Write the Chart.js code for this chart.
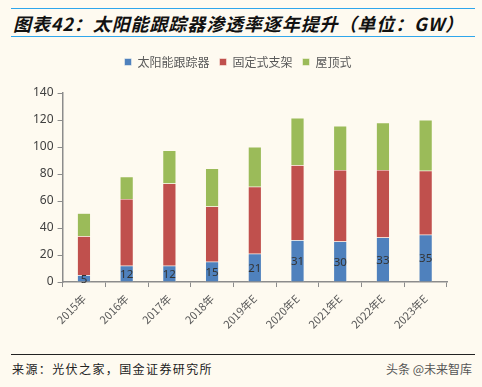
<!DOCTYPE html>
<html>
<head>
<meta charset="utf-8">
<script src="https://cdn.jsdelivr.net/npm/chart.js@4"></script>
<style>
  body { margin: 0; background: #fefaf0; width: 482px; height: 387px; position: relative; overflow: hidden; font-family: "Noto Sans CJK SC", sans-serif; }
  .line { position: absolute; left: 11px; width: 464px; height: 1px; background: #2ea6ec; }
  .title { position: absolute; left: 13px; top: 10px; font-size: 18px; font-weight: bold; font-style: italic; color: #111; white-space: nowrap; letter-spacing: 0.9px; }
  .foot { position: absolute; left: 11px; width: 464px; top: 354px; height: 1px; background: #222; }
  .src { position: absolute; left: 12px; top: 360px; font-size: 12px; color: #222; letter-spacing: 1.4px; }
  .wm { position: absolute; right: 10px; top: 360px; font-size: 12px; color: #555; }
  #wrap { position: absolute; left: 0; top: 46px; width: 482px; height: 290px; }
</style>
</head>
<body>
<div class="line" style="top:8px"></div>
<div class="title">图表42：太阳能跟踪器渗透率逐年提升（单位：GW）</div>
<div class="line" style="top:36px"></div>
<div id="wrap"><canvas id="myChart"></canvas></div>
<div class="foot"></div>
<div class="src">来源：光伏之家，国金证券研究所</div>
<div class="wm">头条 @未来智库</div>
<script>
const years = ['2015年', '2016年', '2017年', '2018年', '2019年E', '2020年E', '2021年E', '2022年E', '2023年E'];
const tracker = [5, 12, 12, 15, 21, 31, 30, 33, 35];
const fixedMount = [29, 49.5, 61, 41, 49.5, 55.5, 53, 50, 47.5];
const rooftop = [17, 16.5, 24.5, 28, 29.5, 35, 32.5, 35, 37.5];

const barLabels = {
  id: 'barLabels',
  afterDatasetsDraw(chart) {
    const { ctx } = chart;
    const meta = chart.getDatasetMeta(0);
    ctx.save();
    ctx.font = '11.5px "Noto Sans", sans-serif';
    ctx.fillStyle = '#333';
    ctx.textAlign = 'center';
    ctx.textBaseline = 'middle';
    meta.data.forEach((bar, i) => {
      ctx.fillText(tracker[i], bar.x, (bar.y + bar.base) / 2 + 1);
    });
    ctx.restore();
  }
};

// push the plot area a little below the legend
const legendGap = {
  id: 'legendGap',
  beforeInit(chart) {
    const fit = chart.legend.fit;
    chart.legend.fit = function () {
      fit.bind(chart.legend)();
      this.height += 15;
    };
  }
};

const ctx = document.getElementById('myChart');

new Chart(ctx, {
  type: 'bar',
  data: {
    labels: years,
    datasets: [{
      label: '太阳能跟踪器',
      data: tracker,
      backgroundColor: '#4f81bd',
      borderColor: '#fefaf0',
      borderWidth: 0.5
    }, {
      label: '固定式支架',
      data: fixedMount,
      backgroundColor: '#c0504d',
      borderColor: '#fefaf0',
      borderWidth: 0.5
    }, {
      label: '屋顶式',
      data: rooftop,
      backgroundColor: '#9bbb59',
      borderColor: '#fefaf0',
      borderWidth: 0.5
    }]
  },
  plugins: [barLabels, legendGap],
  options: {
    responsive: true,
    maintainAspectRatio: false,
    animation: false,
    layout: { padding: { left: 29, right: 35, top: 0, bottom: 0 } },
    datasets: { bar: { barPercentage: 0.62, categoryPercentage: 0.5 } },
    plugins: {
      legend: {
        position: 'top',
        labels: {
          boxWidth: 7,
          boxHeight: 7,
          padding: 10,
          color: '#595959',
          font: { size: 12, family: '"Noto Sans CJK SC", sans-serif' }
        }
      },
      tooltip: { enabled: false }
    },
    scales: {
      x: {
        stacked: true,
        border: { color: '#8c8c8c', width: 1.5 },
        grid: { offset: true, drawOnChartArea: false, tickLength: 5, color: '#8c8c8c' },
        ticks: {
          color: '#595959',
          maxRotation: 45,
          minRotation: 45,
          padding: 5,
          font: { size: 11, family: '"Noto Sans CJK SC", sans-serif' }
        }
      },
      y: {
        stacked: true,
        min: 0,
        max: 140,
        border: { color: '#8c8c8c', width: 1.5 },
        grid: { drawOnChartArea: false, tickLength: 5, color: '#8c8c8c' },
        ticks: {
          stepSize: 20,
          color: '#404040',
          padding: 4,
          font: { size: 12, family: '"Noto Sans", sans-serif' }
        }
      }
    }
  }
});
</script>
</body>
</html>
